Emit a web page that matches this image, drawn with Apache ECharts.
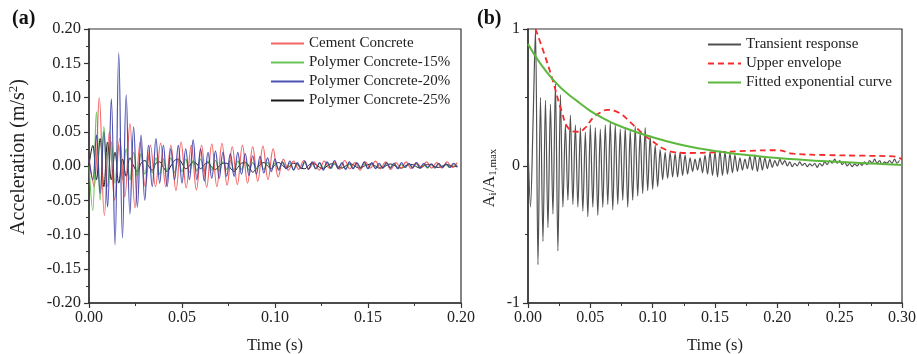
<!DOCTYPE html>
<html>
<head>
<meta charset="utf-8">
<script src="https://cdn.jsdelivr.net/npm/echarts@6/dist/echarts.min.js"></script>
<style>
html,body{margin:0;padding:0;background:#fff;}
#c{width:917px;height:354px;}
</style>
</head>
<body>
<div id="c"></div>
<script>
// ---------- Panel (a): acceleration signals ----------
const xTicksA = ['0.00','0.05','0.10','0.15','0.20'];
const yTicksA = ['-0.20','-0.15','-0.10','-0.05','0.00','0.05','0.10','0.15','0.20'];
const namesA = ['Cement Concrete','Polymer Concrete-15%','Polymer Concrete-20%','Polymer Concrete-25%'];

const cementStep = 0.00275;
const cement = [0.01,-0.03,0.10,-0.072,0.05,-0.05,0.04,-0.045,0.062,-0.061,0.035,-0.03,0.03,-0.03,0.033,-0.03,0.03,-0.036,0.035,-0.032,0.03,-0.035,0.03,-0.031,0.032,-0.03,0.033,-0.028,0.028,-0.027,0.03,-0.025,0.028,-0.022,0.029,-0.02,0.025,-0.016,0.01,-0.006,0.007,-0.005,0.008,-0.004,0.006,-0.006,0.007,-0.003,0.006,-0.005,0.008,-0.004,0.005,-0.006,0.006,-0.003,0.007,-0.004,0.006,-0.005,0.005,-0.003,0.006,-0.004,0.005,-0.002,0.006,-0.003,0.005,-0.003,0.006,-0.002,0.005];

const poly15Step = 0.002;
const poly15 = [0.0,-0.065,0.079,-0.05,0.057,-0.03,0.035,-0.025,0.03,-0.02,0.025,-0.02,0.02,-0.015,0.018,-0.012,0.015,-0.01,0.012,-0.012,0.01,-0.008,0.012,-0.01,0.009,-0.008,0.01,-0.009,0.008,-0.007,0.01,-0.008,0.007,-0.006,0.008,-0.007,0.006,-0.005,0.008,-0.006,0.007,-0.005,0.006,-0.006,0.005,-0.004,0.006,-0.005,0.005,-0.004,0.004,-0.004,0.005,-0.003,0.004,-0.005,0.004,-0.003,0.005,-0.004,0.003,-0.004,0.004,-0.003,0.005,-0.004,0.003,-0.003,0.004,-0.004,0.003,-0.003,0.004,-0.002,0.003,-0.003,0.004,-0.003,0.002,-0.003,0.003,-0.002,0.003,-0.003,0.002,-0.002,0.003,-0.002,0.003,-0.002,0.002,-0.003,0.002,-0.002,0.003,-0.002,0.002,-0.002,0.002,-0.001];

const poly20Step = 0.002;
const poly20 = [0.01,-0.02,0.045,-0.04,0.05,-0.06,0.098,-0.115,0.165,-0.105,0.104,-0.07,0.057,-0.06,0.045,-0.05,0.03,-0.03,0.04,-0.025,0.03,-0.03,0.025,-0.02,0.03,-0.025,0.025,-0.02,0.038,-0.02,0.025,-0.022,0.02,-0.018,0.022,-0.018,0.02,-0.015,0.018,-0.015,0.02,-0.012,0.018,-0.014,0.015,-0.012,0.014,-0.01,0.012,-0.008,0.01,-0.006,0.006,-0.004,0.007,-0.006,0.005,-0.004,0.007,-0.005,0.006,-0.004,0.005,-0.006,0.006,-0.003,0.008,-0.004,0.005,-0.005,0.006,-0.004,0.005,-0.003,0.006,-0.004,0.005,-0.004,0.004,-0.003,0.005,-0.003,0.004,-0.004,0.005,-0.002,0.004,-0.003,0.005,-0.003,0.004,-0.002,0.003,-0.003,0.004,-0.002,0.003,-0.002,0.004,-0.002];

const poly25Step = 0.002;
const poly25 = [0.0,0.03,-0.02,0.04,-0.03,0.035,-0.02,0.02,-0.025,0.01,-0.015,0.012,0.0,-0.008,0.004,0.008,0.0,-0.006,0.004,0.006,-0.002,-0.008,0.0,0.008,0.01,0.004,-0.004,0.0,0.006,0.003,-0.004,0.002,0.005,-0.002,-0.005,0.0,0.004,0.004,-0.003,-0.008,-0.002,0.004,0.005,0.0,-0.009,-0.004,0.002,0.005,0.0,-0.004,0.002,0.005,0.001,-0.003,0.0,0.004,0.002,-0.003,-0.004,0.001,0.004,0.002,-0.002,-0.004,0.0,0.003,0.003,-0.001,-0.003,0.0,0.003,0.002,-0.002,-0.003,0.0,0.002,0.003,0.0,-0.003,-0.002,0.001,0.003,0.001,-0.002,-0.003,0.0,0.002,0.002,-0.001,-0.003,0.0,0.002,0.002,-0.001,-0.002,0.0,0.002,0.001,-0.001,0.0];

// ---------- Panel (b): normalised transient response ----------
const xTicksB = ['0.00','0.05','0.10','0.15','0.20','0.25','0.30'];
const yTicksB = ['-1','0','1'];
const namesB = ['Transient response','Upper envelope','Fitted exponential curve'];

const transientStep = 0.002;
const transient = [0.15,-0.3,0.3,1.0,-0.72,0.5,-0.55,0.48,-0.45,0.45,-0.35,0.6,-0.62,0.52,-0.3,0.3,-0.25,0.37,-0.28,0.3,-0.3,0.28,-0.33,0.25,-0.37,0.3,-0.3,0.28,-0.36,0.27,-0.3,0.3,-0.28,0.32,-0.32,0.3,-0.28,0.27,-0.25,0.28,-0.3,0.26,-0.25,0.29,-0.22,0.25,-0.2,0.28,-0.18,0.22,-0.17,0.15,-0.15,0.12,-0.1,
  0.1,-0.09,0.1,-0.08,0.09,-0.08,0.1,-0.07,0.08,-0.06,0.06,-0.04,0.05,-0.03,0.06,-0.05,0.08,-0.06,0.1,-0.07,0.1,-0.08,0.11,-0.07,0.1,-0.06,0.09,-0.05,0.08,-0.04,0.06,-0.03,0.05,-0.02,0.07,-0.03,0.08,-0.04,0.07,-0.03,0.06,-0.02,0.05,-0.01,0.04,0.0,0.05,0.01,0.04,0.0,0.03,-0.005,0.02,0.0,0.03,0.005,0.02,-0.005,0.015,0.0,0.02,-0.01,0.02,0.0,0.03,0.01,0.04,0.02,0.05,0.02,0.04,0.01,0.03,0.0,0.02,-0.005,0.015,0.0,0.02,0.005,0.03,0.01,0.04,0.02,0.05,0.02,0.04,0.01,0.03,0.02,0.04,0.02,0.05,0.02,0.04];

const envelopeT = [0.006,0.013,0.020,0.027,0.033,0.040,0.046,0.052,0.058,0.064,0.070,0.076,0.082,0.088,0.094,0.100,0.108,0.118,0.130,0.150,0.175,0.200,0.213,0.240,0.270,0.293,0.300];
const envelopeV = [1.0,0.82,0.62,0.40,0.27,0.25,0.28,0.35,0.39,0.41,0.40,0.37,0.32,0.27,0.22,0.18,0.13,0.10,0.095,0.10,0.11,0.115,0.09,0.08,0.075,0.07,0.05];

const fitT = [0,0.02,0.04,0.06,0.08,0.10,0.12,0.14,0.16,0.18,0.20,0.22,0.24,0.26,0.28,0.30];
const fitV = [0.89,0.63,0.47,0.35,0.27,0.21,0.16,0.125,0.097,0.076,0.058,0.045,0.034,0.025,0.016,0.008];

// ---------- build ----------
const toPairs = (vals, step) => vals.map((v, i) => [+(i * step).toFixed(5), v]);
const zip = (ts, vs) => ts.map((t, i) => [t, vs[i]]);

const FONT = 'Liberation Serif';
const AXC = '#333';

function xAxisCfg(gridIndex, max) {
  return {
    type: 'value', gridIndex, min: 0, max, interval: 0.05,
    name: 'Time (s)', nameLocation: 'middle', nameGap: 34,
    nameTextStyle: { fontFamily: FONT, fontSize: 16.5, color: '#222' },
    axisLine: { show: true, onZero: false, lineStyle: { color: AXC, width: 1.5 } },
    axisTick: { show: true, inside: false, length: 5, lineStyle: { color: AXC, width: 1.2 } },
    minorTick: { show: true, splitNumber: 2, length: 3, lineStyle: { color: AXC, width: 1 } },
    splitLine: { show: false },
    axisLabel: { fontFamily: FONT, fontSize: 16, color: '#222', margin: 7,
      formatter: v => (gridIndex === 0 ? xTicksA : xTicksB)[Math.round(v / 0.05)] }
  };
}

const legendBase = {
  orient: 'vertical', itemWidth: 33, itemHeight: 14, itemGap: 4, padding: 0,
  itemStyle: { opacity: 0 },
  textStyle: { fontFamily: FONT, fontSize: 15, color: '#222' }
};

const option = {
  animation: false,
  backgroundColor: '#fff',
  grid: [
    { left: 89, right: 456, top: 29, bottom: 51, show: true, borderColor: AXC, borderWidth: 1.2, backgroundColor: 'transparent', containLabel: false, outerBoundsMode: 'none' },
    { left: 528, right: 15, top: 29, bottom: 51, show: true, borderColor: AXC, borderWidth: 1.2, backgroundColor: 'transparent', containLabel: false, outerBoundsMode: 'none' }
  ],
  xAxis: [xAxisCfg(0, 0.2), xAxisCfg(1, 0.3)],
  yAxis: [
    {
      type: 'value', gridIndex: 0, min: -0.2, max: 0.2, interval: 0.05,
      name: 'Acceleration (m/s{sup|2})', nameLocation: 'middle', nameGap: 59, nameRotate: 90,
      nameTextStyle: { fontFamily: FONT, fontSize: 20, color: '#222', padding: [0, 0, 0, 18],
        rich: { sup: { fontFamily: FONT, fontSize: 13, color: '#222', verticalAlign: 'top', padding: [0,0,10,0] } } },
      axisLine: { show: true, onZero: false, lineStyle: { color: AXC, width: 1.5 } },
      axisTick: { show: true, inside: false, length: 5, lineStyle: { color: AXC, width: 1.2 } },
      minorTick: { show: true, splitNumber: 2, length: 3, lineStyle: { color: AXC, width: 1 } },
      splitLine: { show: false },
      axisLabel: { fontFamily: FONT, fontSize: 16.5, color: '#222', margin: 8,
        formatter: v => yTicksA[Math.round((v + 0.2) / 0.05)] }
    },
    {
      type: 'value', gridIndex: 1, min: -1, max: 1, interval: 1,
      name: 'A{sub|i}/A{sub|1,max}', nameLocation: 'middle', nameGap: 29, nameRotate: 90,
      nameTextStyle: { fontFamily: FONT, fontSize: 16.5, color: '#222', padding: [0, 0, 0, -24],
        rich: { sub: { fontFamily: FONT, fontSize: 11, color: '#222', padding: [7,0,0,0] } } },
      axisLine: { show: true, onZero: false, lineStyle: { color: AXC, width: 1.5 } },
      axisTick: { show: true, inside: false, length: 5, lineStyle: { color: AXC, width: 1.2 } },
      minorTick: { show: true, splitNumber: 2, length: 3, lineStyle: { color: AXC, width: 1 } },
      splitLine: { show: false },
      axisLabel: { fontFamily: FONT, fontSize: 16, color: '#222', margin: 8,
        formatter: v => yTicksB[Math.round(v + 1)] }
    }
  ],
  legend: [
    Object.assign({ data: namesA, left: 270, top: 36 }, legendBase),
    Object.assign({ data: namesB, left: 707, top: 37 }, legendBase)
  ],
  graphic: [
    { type: 'text', left: 12, top: 9, style: { text: '(a)', fontFamily: FONT, fontSize: 20, fontWeight: 'bold', fill: '#111' } },
    { type: 'text', left: 477, top: 9, style: { text: '(b)', fontFamily: FONT, fontSize: 20, fontWeight: 'bold', fill: '#111' } }
  ],
  series: [
    { name: namesA[3], type: 'line', xAxisIndex: 0, yAxisIndex: 0, symbol: 'none', smooth: 0.4,
      data: toPairs(poly25, poly25Step), lineStyle: { color: '#1a1a1a', width: 1 }, itemStyle: { color: '#1a1a1a' } },
    { name: namesA[1], type: 'line', xAxisIndex: 0, yAxisIndex: 0, symbol: 'none', smooth: 0.4,
      data: toPairs(poly15, poly15Step), lineStyle: { color: '#4fb83a', width: 1.2, opacity: 0.85 }, itemStyle: { color: '#4fb83a' } },
    { name: namesA[0], type: 'line', xAxisIndex: 0, yAxisIndex: 0, symbol: 'none', smooth: 0.4,
      data: toPairs(cement, cementStep), lineStyle: { color: '#f24b4b', width: 1.2, opacity: 0.85 }, itemStyle: { color: '#f24b4b' } },
    { name: namesA[2], type: 'line', xAxisIndex: 0, yAxisIndex: 0, symbol: 'none', smooth: 0.4,
      data: toPairs(poly20, poly20Step), lineStyle: { color: '#2f35a3', width: 1.2, opacity: 0.85 }, itemStyle: { color: '#2f35a3' } },

    { name: namesB[0], type: 'line', xAxisIndex: 1, yAxisIndex: 1, symbol: 'none', smooth: 0.3,
      data: toPairs(transient, transientStep), lineStyle: { color: '#505050', width: 1.2 }, itemStyle: { color: '#333' } },
    { name: namesB[1], type: 'line', xAxisIndex: 1, yAxisIndex: 1, symbol: 'none', smooth: 0.5,
      data: zip(envelopeT, envelopeV), lineStyle: { color: '#f52a2a', width: 1.8, type: [6, 4] }, itemStyle: { color: '#f52a2a' } },
    { name: namesB[2], type: 'line', xAxisIndex: 1, yAxisIndex: 1, symbol: 'none', smooth: 0.5,
      data: zip(fitT, fitV), lineStyle: { color: '#5cb83c', width: 2 }, itemStyle: { color: '#5cb83c' } }
  ]
};

const chart = echarts.init(document.getElementById('c'), null, { renderer: 'canvas' });
chart.setOption(option);
</script>
</body>
</html>
